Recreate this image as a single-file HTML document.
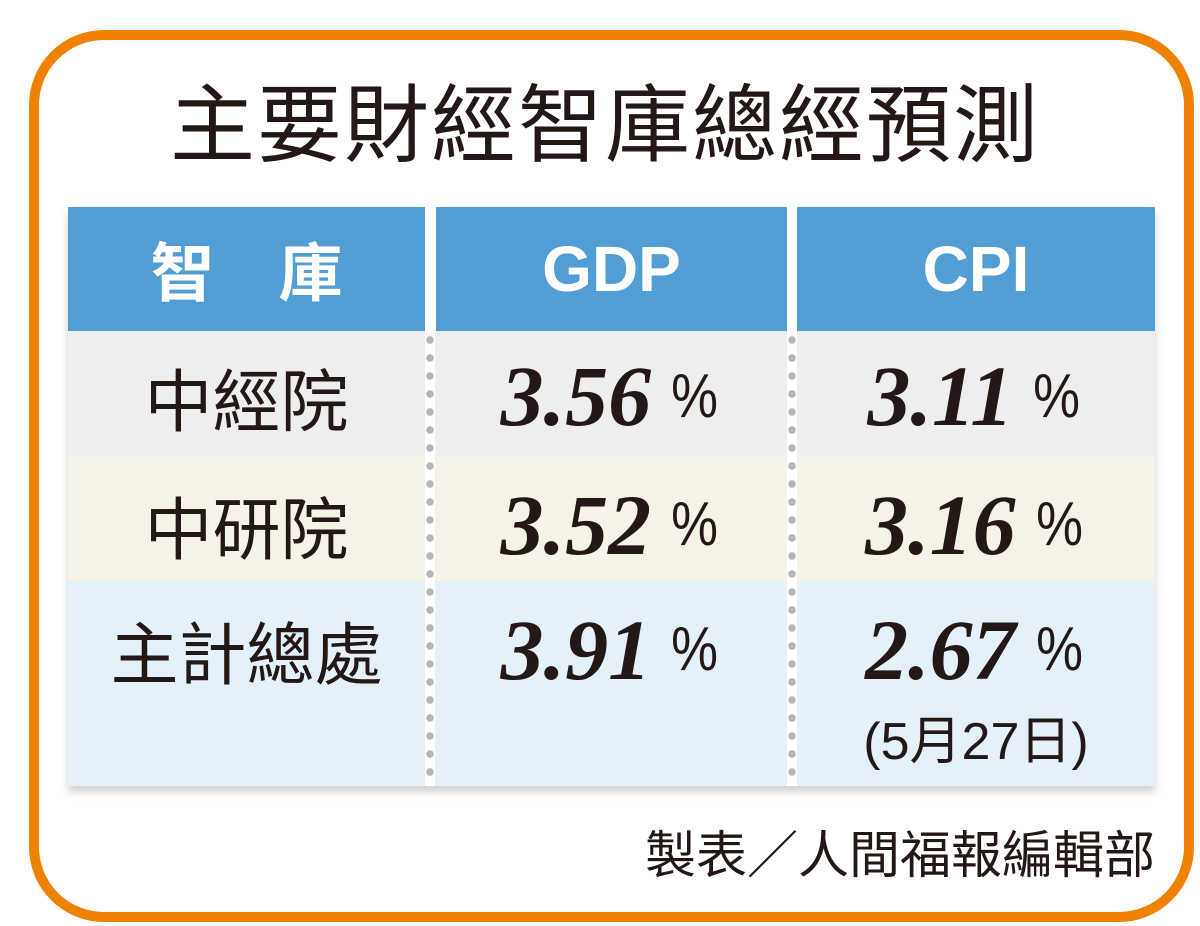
<!DOCTYPE html>
<html><head><meta charset="utf-8"><style>
body{margin:0;width:1200px;height:926px;background:#fff;position:relative;overflow:hidden;font-family:"Liberation Sans","Noto Sans CJK TC",sans-serif;color:#231815}
.frame{position:absolute;left:29px;top:30px;width:1145px;height:872px;border:10px solid #ef8200;border-radius:75px}
.title{position:absolute;left:0;width:1210px;top:72px;text-align:center;font-size:85px;line-height:110px;letter-spacing:2px}
.tbl{position:absolute;left:68px;top:207px;width:1087px;height:579px;box-shadow:0 6px 8px rgba(0,0,0,0.18)}
.c{position:absolute;display:flex;align-items:center;justify-content:center}
.h{background:#519ed4;color:#fff;font-weight:bold;font-size:64px;top:0;height:124px}
.sep{position:absolute;top:124px;height:455px;width:10px;background-image:radial-gradient(circle,#b5b5b5 3.5px,transparent 4px);background-size:10px 18px;background-color:#fff}
.lab{font-size:68px}
.num{font-family:"Liberation Serif",serif;font-weight:bold;font-style:italic;font-size:86px}
.pct{font-family:"Liberation Sans",sans-serif;font-size:62px;font-weight:normal;font-style:normal;margin-left:16px;transform:scaleX(0.85)}
.foot{position:absolute;right:45px;top:826px;font-size:51px;line-height:60px}
</style></head><body>
<div class="frame"></div>
<div class="title">主要財經智庫總經預測</div>
<div class="tbl">
 <div style="position:absolute;left:0;top:124px;width:1087px;height:125px;background:#eeeeee"></div>
 <div style="position:absolute;left:0;top:249px;width:1087px;height:125px;background:#f4f3e6"></div>
 <div style="position:absolute;left:0;top:374px;width:1087px;height:205px;background:#e4f0fa"></div>
 <div class="c h" style="left:0;width:357px">智　庫</div>
 <div class="c h" style="left:368px;width:351px">GDP</div>
 <div class="c h" style="left:729px;width:358px">CPI</div>
 <div style="position:absolute;left:357px;top:0;width:11px;height:124px;background:#fff"></div>
 <div style="position:absolute;left:719px;top:0;width:10px;height:124px;background:#fff"></div>
 <div class="sep" style="left:357px"></div>
 <div class="sep" style="left:719px"></div>

 <div class="c lab" style="left:0;width:357px;top:124px;height:130px">中經院</div>
 <div class="c num" style="left:368px;width:351px;top:124px;height:130px">3.56<span class="pct">%</span></div>
 <div class="c num" style="left:729px;width:358px;top:124px;height:130px">3.11<span class="pct">%</span></div>

 <div class="c lab" style="left:0;width:357px;top:255px;height:125px">中研院</div>
 <div class="c num" style="left:368px;width:351px;top:255px;height:125px">3.52<span class="pct">%</span></div>
 <div class="c num" style="left:729px;width:358px;top:255px;height:125px">3.16<span class="pct">%</span></div>

 <div class="c lab" style="left:0;width:357px;top:380px;height:125px">主計總處</div>
 <div class="c num" style="left:368px;width:351px;top:380px;height:125px">3.91<span class="pct">%</span></div>
 <div class="c num" style="left:729px;width:358px;top:380px;height:125px">2.67<span class="pct">%</span></div>
 <div class="c" style="left:729px;width:358px;top:494px;height:70px;font-size:52px">(5月27日)</div>
</div>
<div class="foot">製表／人間福報編輯部</div>
</body></html>
